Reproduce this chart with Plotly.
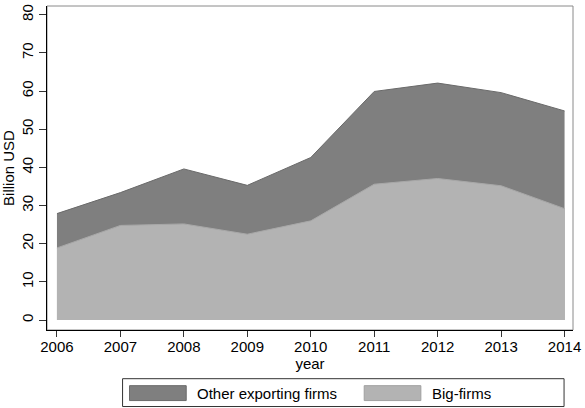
import plotly.graph_objects as go

years = [2006, 2007, 2008, 2009, 2010, 2011, 2012, 2013, 2014]
total_exports = [27.9, 33.4, 39.6, 35.3, 42.6, 59.9, 62.1, 59.6, 54.8]
big_firms = [18.9, 24.8, 25.2, 22.5, 26.0, 35.6, 37.1, 35.2, 29.2]
y_ticks = [0, 10, 20, 30, 40, 50, 60, 70, 80]
legend_labels = ["Other exporting firms", "Big-firms"]

DARK = "#7f7f7f"
LIGHT = "#b3b3b3"
FONT = "Liberation Sans, Arial, sans-serif"

W, H = 585, 408
L, R, T, B = 47, 9, 4, 78
pw, ph = W - L - R, H - T - B


def px(x):
    return (x - L) / pw


def py(y):
    return (H - B - y) / ph


fig = go.Figure()
fig.add_trace(go.Scatter(x=years, y=total_exports, mode="lines", fill="tozeroy",
                         fillcolor=DARK, line=dict(color="#6a6a6a", width=1),
                         name=legend_labels[0], showlegend=False))
fig.add_trace(go.Scatter(x=years, y=big_firms, mode="lines", fill="tozeroy",
                         fillcolor=LIGHT, line=dict(color="#a8a8a8", width=1),
                         name=legend_labels[1], showlegend=False))

shapes = [
    dict(type="rect", xref="paper", yref="paper", x0=0, x1=1, y0=0, y1=1,
         line=dict(color="#8a8a8a", width=1), layer="below"),
    # legend box
    dict(type="rect", xref="paper", yref="paper", x0=px(123), x1=px(567),
         y0=py(407), y1=py(379), line=dict(color="#333333", width=1),
         fillcolor="white"),
    dict(type="rect", xref="paper", yref="paper", x0=px(130), x1=px(187),
         y0=py(401), y1=py(386), line=dict(color="#6a6a6a", width=1),
         fillcolor=DARK),
    dict(type="rect", xref="paper", yref="paper", x0=px(366), x1=px(423),
         y0=py(401), y1=py(386), line=dict(color="#a0a0a0", width=1),
         fillcolor=LIGHT),
]
annotations = [
    dict(text=legend_labels[0], xref="paper", yref="paper", x=px(196), y=py(393.5),
         xanchor="left", yanchor="middle", showarrow=False,
         font=dict(family=FONT, size=15, color="black")),
    dict(text=legend_labels[1], xref="paper", yref="paper", x=px(432), y=py(393.5),
         xanchor="left", yanchor="middle", showarrow=False,
         font=dict(family=FONT, size=15, color="black")),
]

fig.update_layout(
    width=W, height=H,
    margin=dict(l=L, r=R, t=T, b=B, pad=0),
    paper_bgcolor="white", plot_bgcolor="white",
    font=dict(family=FONT, size=15, color="black"),
    shapes=shapes, annotations=annotations,
    showlegend=False,
)
fig.update_xaxes(
    range=[2005.843, 2014.133], tickvals=years, ticktext=[str(y) for y in years],
    showgrid=False, zeroline=False, showline=True, linecolor="black", linewidth=1.3,
    ticks="outside", ticklen=6, tickwidth=1.3, tickcolor="#333333",
    ticklabelstandoff=-3,
    tickfont=dict(size=15), title=dict(text="year", font=dict(size=15), standoff=0),
)
fig.update_yaxes(
    range=[-2.6, 82.3], tickvals=y_ticks, tickangle=-90,
    showgrid=False, zeroline=False, showline=True, linecolor="black", linewidth=1.3,
    ticks="outside", ticklen=7, tickwidth=1.3, tickcolor="#333333",
    tickfont=dict(size=15), title=dict(text="Billion USD", font=dict(size=15), standoff=4),
)

fig.write_html("out.html", config={"displayModeBar": False},
               post_script="document.body.style.margin='0';document.body.style.padding='0';document.body.style.overflow='hidden';")
